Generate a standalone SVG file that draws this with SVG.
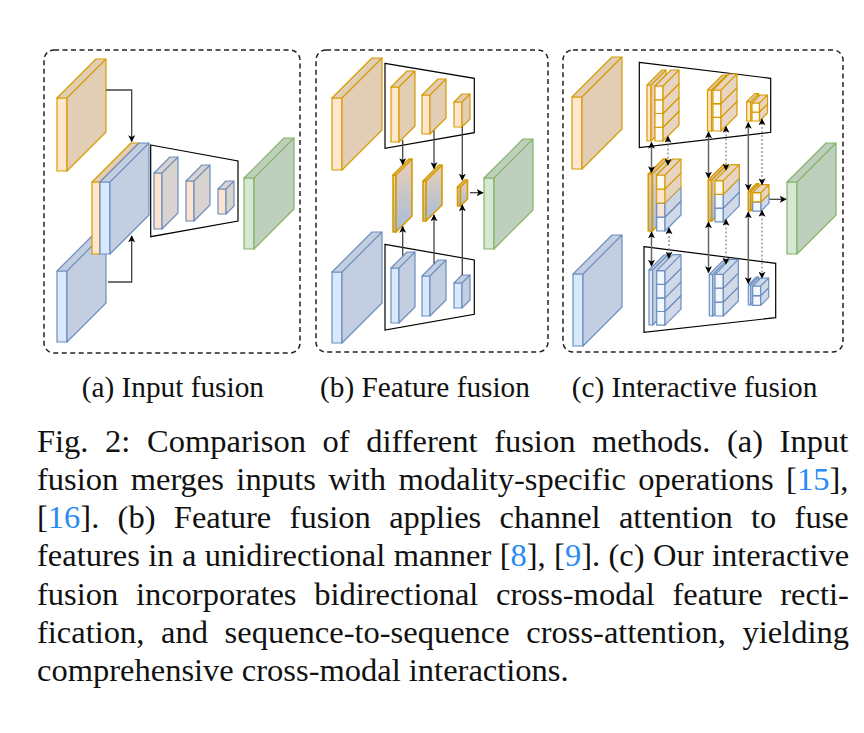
<svg xmlns="http://www.w3.org/2000/svg" width="864" height="733" viewBox="0 0 864 733">
<style>
.frame{fill:none;stroke:#222;stroke-width:1.5;stroke-dasharray:5 3.5}
.trap{fill:none;stroke:#000;stroke-width:1.2}
.or,.bl,.gr,.mx,.oc,.bc,.gd,.ob{stroke-width:1.2;stroke-linejoin:round}
.or{stroke:#d79b00}.or rect{fill:#ffe6cc}.or path{fill:#e2cdb5}
.bl{stroke:#6c8ebf}.bl rect{fill:#dae8fc}.bl path{fill:#c3cfe1}
.gr{stroke:#82b366}.gr rect{fill:#d5e8d4}.gr path{fill:#bed0bd}
.mx{stroke:#6c8ebf}.mx rect{fill:#fce5cf}.mx path{fill:#d8d3ce}
.oc{stroke:#d79b00}.oc rect{fill:#fffaf4}.oc path{fill:#e7d5c2}
.oc2{stroke:#d79b00}.oc2 rect{fill:#ffe6cc}.oc2 path{fill:#e5d2bf}
.bc{stroke:#6c8ebf}.bc rect{fill:#f3f7fe}.bc path{fill:#cfd9e8}
.ob{stroke:#6c8ebf}.ob rect{fill:#f6e4d5}.ob path{fill:#cdd5e2}
.gd{stroke:#d79b00;stroke-width:1.6}.gd rect,.gd path{fill:url(#gMix)}
.ln{fill:none;stroke:#444;stroke-width:1.3;marker-end:url(#ah)}
.sd{fill:none;stroke:#666;stroke-width:1.5;marker-start:url(#ah);marker-end:url(#ah)}
.dt{fill:none;stroke:#888;stroke-width:1.3;stroke-dasharray:2 2;marker-start:url(#ah);marker-end:url(#ah)}
.sub{font-family:"Liberation Serif","Times New Roman",serif;font-size:29.3px;fill:#111}
.cap{font-family:"Liberation Serif","Times New Roman",serif;font-size:32.5px;fill:#111}
.ref{fill:#2a8bf2}
</style>
<defs>
<linearGradient id="gMix" x1="0" y1="0" x2="0" y2="1">
<stop offset="0" stop-color="#e9cfb4"/>
<stop offset="1" stop-color="#a6bcdc"/>
</linearGradient>
<marker id="ah" viewBox="0 0 10 10" refX="9" refY="5" markerWidth="7" markerHeight="7" markerUnits="userSpaceOnUse" orient="auto-start-reverse">
<path d="M0,0 L10,5 L0,10 L2.5,5 z" fill="#000" stroke="none"/>
</marker>
</defs>

<!-- Panel (a) -->
<g id="panel-a">
<rect class="frame" x="44" y="50" width="256" height="303" rx="10"/>
<g id="a-in-rgb" class="or"><rect x="57" y="98" width="10" height="73"/><path d="M57,98 l39,-39 h10 l-39,39 z m10,0 l39,-39 v73 l-39,39 z"/></g>
<g id="a-in-x" class="bl"><rect x="57" y="271" width="10" height="71"/><path d="M57,271 l39,-39 h10 l-39,39 z m10,0 l39,-39 v71 l-39,39 z"/></g>
<g id="a-fused-o" class="or"><rect x="92" y="182" width="8" height="72"/><path d="M92,182 l39,-39 h8 l-39,39 z m8,0 l39,-39 v72 l-39,39 z"/></g>
<g id="a-fused-b" class="bl"><rect x="100" y="182" width="10" height="72"/><path d="M100,182 l39,-39 h10 l-39,39 z m10,0 l39,-39 v72 l-39,39 z"/></g>
<polygon id="a-encoder" class="trap" points="150.7,145 238,161 238,221 150.7,236.7"/>
<g id="a-f1" class="mx"><rect x="154" y="173" width="8" height="56"/><path d="M154,173 l16,-16 h8 l-16,16 z m8,0 l16,-16 v56 l-16,16 z"/></g>
<g id="a-f2" class="mx"><rect x="186" y="181" width="8" height="40"/><path d="M186,181 l16,-16 h8 l-16,16 z m8,0 l16,-16 v40 l-16,16 z"/></g>
<g id="a-f3" class="mx"><rect x="218" y="189" width="8" height="25"/><path d="M218,189 l8,-8 h8 l-8,8 z m8,0 l8,-8 v25 l-8,8 z"/></g>
<g id="a-out" class="gr"><rect x="244" y="178" width="10" height="71"/><path d="M244,178 l40,-40 h10 l-40,40 z m10,0 l40,-40 v71 l-40,40 z"/></g>
</g>

<!-- Panel (b) -->
<g id="panel-b">
<rect class="frame" x="316" y="50" width="232" height="302" rx="10"/>
<g id="b-in-rgb" class="or"><rect x="332" y="98" width="10" height="72"/><path d="M332,98 l40,-40 h10 l-40,40 z m10,0 l40,-40 v72 l-40,40 z"/></g>
<g id="b-in-x" class="bl"><rect x="332" y="272" width="10" height="71"/><path d="M332,272 l40,-40 h10 l-40,40 z m10,0 l40,-40 v71 l-40,40 z"/></g>
<polygon id="b-enc-top" class="trap" points="385,63.3 474.3,78.3 474.3,132.7 385,148.3"/>
<polygon id="b-enc-bot" class="trap" points="385,244.3 474.3,260 474.3,314.3 385,330"/>
<g id="b-t1" class="or"><rect x="391" y="87" width="8" height="55"/><path d="M391,87 l16,-16 h8 l-16,16 z m8,0 l16,-16 v55 l-16,16 z"/></g>
<g id="b-t2" class="or"><rect x="422" y="95" width="8" height="39"/><path d="M422,95 l16,-16 h8 l-16,16 z m8,0 l16,-16 v39 l-16,16 z"/></g>
<g id="b-t3" class="or"><rect x="454" y="102" width="8" height="25"/><path d="M454,102 l8,-8 h8 l-8,8 z m8,0 l8,-8 v25 l-8,8 z"/></g>
<g id="b-u1" class="bl"><rect x="391" y="268" width="8" height="55"/><path d="M391,268 l16,-16 h8 l-16,16 z m8,0 l16,-16 v55 l-16,16 z"/></g>
<g id="b-u2" class="bl"><rect x="422" y="276" width="8" height="40"/><path d="M422,276 l16,-16 h8 l-16,16 z m8,0 l16,-16 v40 l-16,16 z"/></g>
<g id="b-u3" class="bl"><rect x="454" y="283" width="8" height="25"/><path d="M454,283 l8,-8 h8 l-8,8 z m8,0 l8,-8 v25 l-8,8 z"/></g>
<g id="b-m1" class="gd"><rect x="393" y="175" width="3" height="57"/><path d="M393,175 l16,-16 h3 l-16,16 z m3,0 l16,-16 v57 l-16,16 z"/></g>
<g id="b-m2" class="gd"><rect x="423" y="181" width="3" height="40"/><path d="M423,181 l16,-16 h3 l-16,16 z m3,0 l16,-16 v40 l-16,16 z"/></g>
<g id="b-m3" class="gd"><rect x="457.5" y="187" width="3" height="19"/><path d="M457.5,187 l7,-7 h3 l-7,7 z m3,0 l7,-7 v19 l-7,7 z"/></g>
<g id="b-out" class="gr"><rect x="484" y="178" width="10" height="71"/><path d="M484,178 l39,-39 h10 l-39,39 z m10,0 l39,-39 v71 l-39,39 z"/></g>
</g>

<!-- Panel (c) -->
<g id="panel-c">
<rect class="frame" x="563" y="50" width="280" height="302" rx="10"/>
<g id="c-in-rgb" class="or"><rect x="572" y="97" width="10" height="72"/><path d="M572,97 l40,-40 h10 l-40,40 z m10,0 l40,-40 v72 l-40,40 z"/></g>
<g id="c-in-x" class="bl"><rect x="573" y="274" width="10" height="72"/><path d="M573,274 l39,-39 h10 l-39,39 z m10,0 l39,-39 v72 l-39,39 z"/></g>
<g id="c-out" class="gr"><rect x="787" y="182" width="10" height="72"/><path d="M787,182 l39,-39 h10 l-39,39 z m10,0 l39,-39 v72 l-39,39 z"/></g>
<polygon id="c-enc-top" class="trap" points="639.3,62.3 770.7,78.3 770.7,132.3 639.3,147.7"/>
<polygon id="c-enc-bot" class="trap" points="644,246.7 775.7,263.3 775.7,317.7 644,332.3"/>

<!-- top row -->
<g id="c-t1">
<g class="or"><rect x="647" y="85" width="4" height="56"/><path d="M647,85 l15,-15 h4 l-15,15 z m4,0 l15,-15 v56 l-15,15 z"/></g>
<g class="oc"><rect x="655" y="127.25" width="8" height="13.75"/><path d="M655,127.25 l16,-16 h8 l-16,16 z m8,0 l16,-16 v13.75 l-16,16 z"/></g>
<g class="oc"><rect x="655" y="113.5" width="8" height="13.75"/><path d="M655,113.5 l16,-16 h8 l-16,16 z m8,0 l16,-16 v13.75 l-16,16 z"/></g>
<g class="oc"><rect x="655" y="99.75" width="8" height="13.75"/><path d="M655,99.75 l16,-16 h8 l-16,16 z m8,0 l16,-16 v13.75 l-16,16 z"/></g>
<g class="oc"><rect x="655" y="86" width="8" height="13.75"/><path d="M655,86 l16,-16 h8 l-16,16 z m8,0 l16,-16 v13.75 l-16,16 z"/></g>
</g>
<g id="c-t2">
<g class="or"><rect x="707.5" y="90" width="4" height="41"/><path d="M707.5,90 l15,-15 h4 l-15,15 z m4,0 l15,-15 v41 l-15,15 z"/></g>
<g class="oc"><rect x="713" y="117.33" width="8" height="13.67"/><path d="M713,117.33 l16,-16 h8 l-16,16 z m8,0 l16,-16 v13.67 l-16,16 z"/></g>
<g class="oc"><rect x="713" y="103.67" width="8" height="13.67"/><path d="M713,103.67 l16,-16 h8 l-16,16 z m8,0 l16,-16 v13.67 l-16,16 z"/></g>
<g class="oc"><rect x="713" y="90" width="8" height="13.67"/><path d="M713,90 l16,-16 h8 l-16,16 z m8,0 l16,-16 v13.67 l-16,16 z"/></g>
</g>
<g id="c-t3">
<g class="or"><rect x="746.7" y="101.7" width="4" height="19.3"/><path d="M746.7,101.7 l8,-8 h4 l-8,8 z m4,0 l8,-8 v19.3 l-8,8 z"/></g>
<g class="oc"><rect x="752" y="112" width="7.5" height="9"/><path d="M752,112 l8,-8 h7.5 l-8,8 z m7.5,0 l8,-8 v9 l-8,8 z"/></g>
<g class="oc"><rect x="752" y="103" width="7.5" height="9"/><path d="M752,103 l8,-8 h7.5 l-8,8 z m7.5,0 l8,-8 v9 l-8,8 z"/></g>
</g>

<!-- middle row -->
<g id="c-m1">
<g class="gd"><rect x="648.3" y="174" width="4" height="57"/><path d="M648.3,174 l15,-15 h4 l-15,15 z m4,0 l15,-15 v57 l-15,15 z"/></g>
<g class="bc"><rect x="656.7" y="217" width="8.3" height="14"/><path d="M656.7,217 l16,-16 h8.3 l-16,16 z m8.3,0 l16,-16 v14 l-16,16 z"/></g>
<g class="ob"><rect x="656.7" y="203" width="8.3" height="14"/><path d="M656.7,203 l16,-16 h8.3 l-16,16 z m8.3,0 l16,-16 v14 l-16,16 z"/></g>
<g class="oc2"><rect x="656.7" y="189" width="8.3" height="14"/><path d="M656.7,189 l16,-16 h8.3 l-16,16 z m8.3,0 l16,-16 v14 l-16,16 z"/></g>
<g class="oc"><rect x="656.7" y="175" width="8.3" height="14"/><path d="M656.7,175 l16,-16 h8.3 l-16,16 z m8.3,0 l16,-16 v14 l-16,16 z"/></g>
</g>
<g id="c-m2">
<g class="gd"><rect x="708.3" y="180" width="3.4" height="41"/><path d="M708.3,180 l15,-15 h3.4 l-15,15 z m3.4,0 l15,-15 v41 l-15,15 z"/></g>
<g class="bc"><rect x="715" y="208.1" width="8.3" height="13.7"/><path d="M715,208.1 l16,-16 h8.3 l-16,16 z m8.3,0 l16,-16 v13.7 l-16,16 z"/></g>
<g class="bc"><rect x="715" y="194.4" width="8.3" height="13.7"/><path d="M715,194.4 l16,-16 h8.3 l-16,16 z m8.3,0 l16,-16 v13.7 l-16,16 z"/></g>
<g class="oc"><rect x="715" y="180.7" width="8.3" height="13.7"/><path d="M715,180.7 l16,-16 h8.3 l-16,16 z m8.3,0 l16,-16 v13.7 l-16,16 z"/></g>
</g>
<g id="c-m3">
<g class="gd"><rect x="748.3" y="191.7" width="2.5" height="19"/><path d="M748.3,191.7 l8,-8 h2.5 l-8,8 z m2.5,0 l8,-8 v19 l-8,8 z"/></g>
<g class="bc"><rect x="752.7" y="201.9" width="8.3" height="9.2"/><path d="M752.7,201.9 l8,-8 h8.3 l-8,8 z m8.3,0 l8,-8 v9.2 l-8,8 z"/></g>
<g class="oc"><rect x="752.7" y="192.7" width="8.3" height="9.2"/><path d="M752.7,192.7 l8,-8 h8.3 l-8,8 z m8.3,0 l8,-8 v9.2 l-8,8 z"/></g>
</g>

<!-- bottom row -->
<g id="c-b1">
<g class="bl"><rect x="649" y="270" width="3.7" height="55"/><path d="M649,270 l15,-15 h3.7 l-15,15 z m3.7,0 l15,-15 v55 l-15,15 z"/></g>
<g class="bc"><rect x="656.7" y="311.5" width="8.3" height="13.6"/><path d="M656.7,311.5 l16,-16 h8.3 l-16,16 z m8.3,0 l16,-16 v13.6 l-16,16 z"/></g>
<g class="bc"><rect x="656.7" y="297.9" width="8.3" height="13.6"/><path d="M656.7,297.9 l16,-16 h8.3 l-16,16 z m8.3,0 l16,-16 v13.6 l-16,16 z"/></g>
<g class="bc"><rect x="656.7" y="284.3" width="8.3" height="13.6"/><path d="M656.7,284.3 l16,-16 h8.3 l-16,16 z m8.3,0 l16,-16 v13.6 l-16,16 z"/></g>
<g class="bc"><rect x="656.7" y="270.7" width="8.3" height="13.6"/><path d="M656.7,270.7 l16,-16 h8.3 l-16,16 z m8.3,0 l16,-16 v13.6 l-16,16 z"/></g>
</g>
<g id="c-b2">
<g class="bl"><rect x="709.3" y="274.3" width="3.4" height="41.7"/><path d="M709.3,274.3 l15,-15 h3.4 l-15,15 z m3.4,0 l15,-15 v41.7 l-15,15 z"/></g>
<g class="bc"><rect x="715" y="302.1" width="8.3" height="13.9"/><path d="M715,302.1 l15,-15 h8.3 l-15,15 z m8.3,0 l15,-15 v13.9 l-15,15 z"/></g>
<g class="bc"><rect x="715" y="288.2" width="8.3" height="13.9"/><path d="M715,288.2 l15,-15 h8.3 l-15,15 z m8.3,0 l15,-15 v13.9 l-15,15 z"/></g>
<g class="bc"><rect x="715" y="274.3" width="8.3" height="13.9"/><path d="M715,274.3 l15,-15 h8.3 l-15,15 z m8.3,0 l15,-15 v13.9 l-15,15 z"/></g>
</g>
<g id="c-b3">
<g class="bl"><rect x="748.3" y="285" width="2.4" height="20"/><path d="M748.3,285 l8,-8 h2.4 l-8,8 z m2.4,0 l8,-8 v20 l-8,8 z"/></g>
<g class="bc"><rect x="752.7" y="295.7" width="8" height="9.7"/><path d="M752.7,295.7 l8,-8 h8 l-8,8 z m8,0 l8,-8 v9.7 l-8,8 z"/></g>
<g class="bc"><rect x="752.7" y="286" width="8" height="9.7"/><path d="M752.7,286 l8,-8 h8 l-8,8 z m8,0 l8,-8 v9.7 l-8,8 z"/></g>
</g>
</g>

<!-- Connectors -->
<g id="connectors">
<path class="ln" d="M106,90 H131.7 V141.5"/>
<path class="ln" d="M108,282 H131.7 V236"/>
<path class="ln" d="M402.7,140 V164.5"/>
<path class="ln" d="M434,130.5 V168.5"/>
<path class="ln" d="M462.3,127 V180"/>
<path class="ln" d="M402.7,255.5 V226.5"/>
<path class="ln" d="M434,263.5 V215"/>
<path class="ln" d="M462.3,275 V205"/>
<path class="ln" d="M470,192.7 H483"/>
<path class="sd" d="M651.5,142.5 V172.5"/>
<path class="sd" d="M651.5,232 V266"/>
<path class="sd" d="M708.5,132 V178"/>
<path class="sd" d="M708.5,222 V272.5"/>
<path class="sd" d="M748.3,122.5 V190"/>
<path class="sd" d="M748.3,212 V283.5"/>
<path class="dt" d="M668,136.5 V165"/>
<path class="dt" d="M669,228 V258"/>
<path class="dt" d="M726,126.5 V170"/>
<path class="dt" d="M726,219.5 V264"/>
<path class="dt" d="M762,119 V184.5"/>
<path class="dt" d="M762,210.5 V278"/>
<path class="ln" d="M769.5,199.3 H786"/>
</g>

<!-- Sub-captions -->
<g id="subcaptions">
<text class="sub" x="81.7" y="396.5">(a) Input fusion</text>
<text class="sub" x="320" y="396.5">(b) Feature fusion</text>
<text class="sub" x="571.7" y="396.5">(c) Interactive fusion</text>
</g>

<!-- Caption -->
<g id="caption">
<text class="cap" x="37" y="451.5" style="word-spacing:8.5px">Fig. 2: Comparison of different fusion methods. (a) Input</text>
<text class="cap" x="37" y="489.8" style="word-spacing:4.3px">fusion merges inputs with modality-specific operations [<tspan class="ref">15</tspan>],</text>
<text class="cap" x="37" y="528.1" style="word-spacing:10.2px">[<tspan class="ref">16</tspan>]. (b) Feature fusion applies channel attention to fuse</text>
<text class="cap" x="37" y="566.4" style="word-spacing:0.3px">features in a unidirectional manner [<tspan class="ref">8</tspan>], [<tspan class="ref">9</tspan>]. (c) Our interactive</text>
<text class="cap" x="37" y="604.7" style="word-spacing:9.5px">fusion incorporates bidirectional cross-modal feature recti-</text>
<text class="cap" x="37" y="643" style="word-spacing:8.5px">fication, and sequence-to-sequence cross-attention, yielding</text>
<text class="cap" x="37" y="681.3">comprehensive cross-modal interactions.</text>
</g>
</svg>
